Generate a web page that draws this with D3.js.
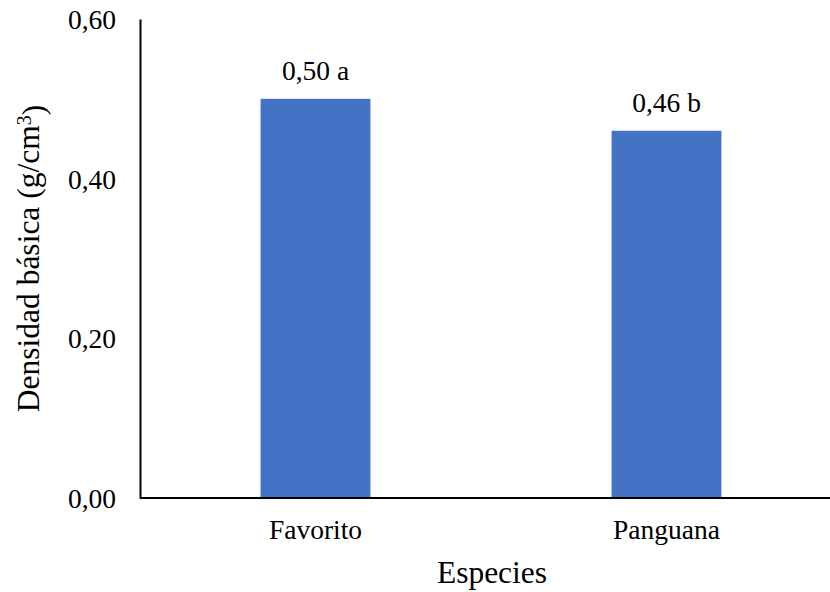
<!DOCTYPE html>
<html>
<head>
<meta charset="utf-8">
<script src="https://cdn.jsdelivr.net/npm/d3@7"></script>
<style>
  html, body { margin: 0; padding: 0; background: #fff; }
  svg { display: block; }
</style>
</head>
<body>
<svg id="chart" width="830" height="592"></svg>
<script>
// Basic density per species, with significance letters
const species = ["Favorito", "Panguana"];
const density = [0.50, 0.46];
const groups = ["a", "b"];
const yTicks = [0, 0.2, 0.4, 0.6];

const width = 830, height = 592;
const margin = { top: 19, right: -12, bottom: 94, left: 140 };
const FONT = "Liberation Serif";

const svg = d3.select("#chart");

const x = d3.scaleBand()
  .domain(species)
  .range([margin.left, width - margin.right])
  .paddingInner(0.687)
  .paddingOuter(0.3435);

const y = d3.scaleLinear()
  .domain([0, 0.6])
  .range([height - margin.bottom, margin.top]);

const fmt = v => d3.format(".2f")(v).replace(".", ",");

// bars
svg.append("g").selectAll("rect")
  .data(species)
  .join("rect")
  .attr("x", d => x(d))
  .attr("width", x.bandwidth())
  .attr("y", (d, i) => y(density[i]))
  .attr("height", (d, i) => y(0) - y(density[i]))
  .attr("fill", "#4472C4");

// value labels
svg.append("g").selectAll("text")
  .data(species)
  .join("text")
  .attr("x", d => x(d) + x.bandwidth() / 2)
  .attr("y", (d, i) => y(density[i]) - 19)
  .attr("text-anchor", "middle")
  .attr("font-family", FONT)
  .attr("font-size", 27.5)
  .attr("fill", "#000")
  .text((d, i) => `${fmt(density[i])} ${groups[i]}`);

// y axis
const yAxis = svg.append("g")
  .attr("transform", `translate(${margin.left},0)`)
  .call(d3.axisLeft(y).tickValues(yTicks).tickFormat(fmt).tickSize(0).tickPadding(24));
yAxis.attr("font-family", FONT).attr("font-size", 27.5);
yAxis.select(".domain").attr("stroke", "#000").attr("stroke-width", 2);
yAxis.selectAll("text").attr("fill", "#000").attr("dy", "0.35em");

// x axis
const xAxis = svg.append("g")
  .attr("transform", `translate(0,${y(0)})`)
  .call(d3.axisBottom(x).tickSize(0).tickPadding(21.5));
xAxis.attr("font-family", FONT).attr("font-size", 27.5);
xAxis.select(".domain").attr("stroke", "#000").attr("stroke-width", 2)
  .attr("d", `M${margin.left},0H${width}`);
xAxis.selectAll("text").attr("fill", "#000");

// axis titles
svg.append("text")
  .attr("x", 492)
  .attr("y", 583)
  .attr("text-anchor", "middle")
  .attr("font-family", FONT)
  .attr("font-size", 31.5)
  .text("Especies");

const yTitle = svg.append("text")
  .attr("transform", `translate(39,${(margin.top + y(0)) / 2}) rotate(-90)`)
  .attr("text-anchor", "middle")
  .attr("font-family", FONT)
  .attr("font-size", 31.5);
yTitle.append("tspan").text("Densidad básica (g/cm");
yTitle.append("tspan").attr("dy", "-0.4em").attr("font-size", 20).text("3");
yTitle.append("tspan").attr("dy", "0.4em").text(")");
</script>
</body>
</html>
